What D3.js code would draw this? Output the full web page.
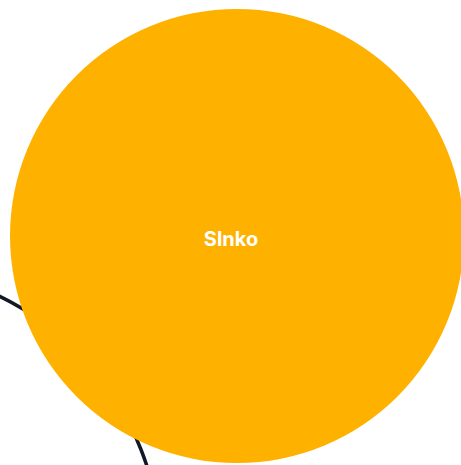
<!DOCTYPE html>
<html>
<head>
<meta charset="utf-8">
<script src="https://cdn.jsdelivr.net/npm/d3@7"></script>
<style>
  html, body { margin: 0; padding: 0; background: #ffffff; }
  svg { display: block; }
</style>
</head>
<body>
<script>
// ---- data ----
const bodyNames = ["Slnko"];
const bodyRadii = [696];          // body radius (thousand km)
const orbitNames = ["dráha"];
const orbitRadii = [883];         // orbit radius in same units

// ---- layout ----
const W = 461, H = 465;
const svg = d3.select("body").append("svg").attr("width", W).attr("height", H);

const r = d3.scaleLinear().domain([0, 696]).range([0, 227]);

const sunCx = 237, sunCy = 236;
const orbitCx = -127, orbitCy = 555;

// orbit
svg.selectAll("circle.orbit")
  .data(orbitRadii)
  .join("circle")
  .attr("class", "orbit")
  .attr("cx", orbitCx)
  .attr("cy", orbitCy)
  .attr("r", d => r(d))
  .attr("fill", "none")
  .attr("stroke", "#111827")
  .attr("stroke-width", 3.5);

// sun
const g = svg.selectAll("g.body")
  .data(bodyNames.map((n, i) => ({ name: n, radius: bodyRadii[i] })))
  .join("g")
  .attr("class", "body")
  .attr("transform", `translate(${sunCx},${sunCy})`);

g.append("circle")
  .attr("r", d => r(d.radius))
  .attr("fill", "#ffb100");

g.append("text")
  .attr("x", -6)
  .attr("y", 5)
  .attr("text-anchor", "middle")
  .attr("dominant-baseline", "middle")
  .attr("fill", "#ffffff")
  .attr("font-family", "Inter, 'Noto Sans', sans-serif")
  .attr("font-weight", 700)
  .attr("font-size", 20)
  .text(d => d.name);
</script>
</body>
</html>
